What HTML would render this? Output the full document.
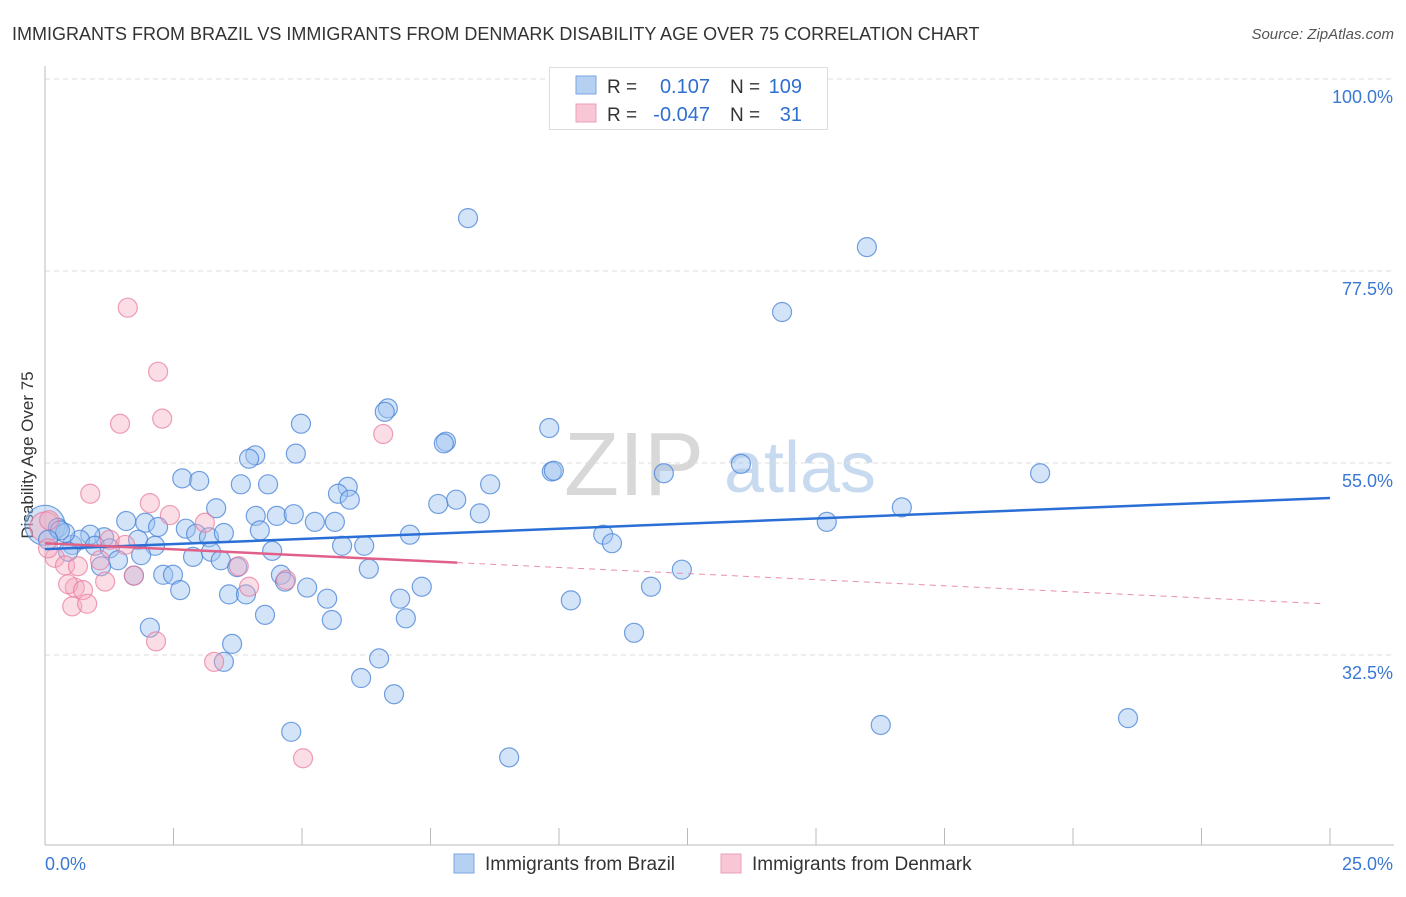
<!DOCTYPE html>
<html><head><meta charset="utf-8"><style>
body{margin:0;background:#fff;font-family:"Liberation Sans",sans-serif;}
svg text{font-family:"Liberation Sans",sans-serif;}
</style></head><body>
<svg id="chart" width="1406" height="892">
<text x="12" y="40" font-size="18" fill="#333">IMMIGRANTS FROM BRAZIL VS IMMIGRANTS FROM DENMARK DISABILITY AGE OVER 75 CORRELATION CHART</text>
<text x="1394" y="39" font-size="15" fill="#555" text-anchor="end" font-style="italic">Source: ZipAtlas.com</text>
<text x="33" y="455" font-size="17" fill="#333" text-anchor="middle" transform="rotate(-90 33 455)">Disability Age Over 75</text>
<text x="634" y="495" font-size="90" fill="#d8d8d8" text-anchor="middle" font-family="Liberation Serif">ZIP</text>
<text x="800" y="492" font-size="72" fill="#c8daf0" text-anchor="middle">atlas</text>
<g id="grid"></g><g id="axes"></g><g id="pts"></g><g id="trends"></g>
<g>
<rect x="549.5" y="67.5" width="278" height="62" fill="#fff" stroke="#ddd"/>
<rect x="576" y="76" width="20" height="18" fill="#b6d0f2" stroke="#7aa6e0"/>
<rect x="576" y="104" width="20" height="18" fill="#f8c6d4" stroke="#eaa0b8"/>
<text x="607" y="93" font-size="19" fill="#333">R = </text><text x="710" y="93" font-size="20" fill="#2f6fd0" text-anchor="end">0.107</text>
<text x="730" y="93" font-size="19" fill="#333">N = </text><text x="802" y="93" font-size="20" fill="#2f6fd0" text-anchor="end">109</text>
<text x="607" y="121" font-size="19" fill="#333">R = </text><text x="710" y="121" font-size="20" fill="#2f6fd0" text-anchor="end">-0.047</text>
<text x="730" y="121" font-size="19" fill="#333">N = </text><text x="802" y="121" font-size="20" fill="#2f6fd0" text-anchor="end">31</text>
</g>
<g>
<rect x="454" y="854" width="20" height="19" fill="#b6d0f2" stroke="#7aa6e0"/>
<text x="485" y="870" font-size="19" fill="#333">Immigrants from Brazil</text>
<rect x="721" y="854" width="20" height="19" fill="#f8c6d4" stroke="#eaa0b8"/>
<text x="752" y="870" font-size="19" fill="#333">Immigrants from Denmark</text>
</g>
</svg>
<script>
const xTickLabels=["0.0%","25.0%"];
const yTicks=[32.5,55,77.5,100];
const yTickLabels=["32.5%","55.0%","77.5%","100.0%"];
const brazilX=[8.23,15.99,14.34,6.67,6.61,4.98,9.81,7.80,7.76,4.09,3.97,4.88,9.86,9.90,12.04,13.54,19.36,2.67,3.00,3.81,4.34,5.89,8.66,5.70,5.93,8.00,7.65,3.33,8.46,16.67,1.58,1.95,2.20,2.74,4.10,4.51,4.84,5.25,5.64,15.21,4.18,2.94,3.19,3.48,7.10,10.86,11.03,1.81,1.15,0.88,0.53,0.68,0.97,1.26,0.25,0.39,0.45,2.14,1.87,1.42,1.09,2.88,3.23,3.42,4.42,5.78,6.21,3.74,6.30,2.30,2.49,1.73,4.59,4.67,12.39,5.10,3.58,3.91,5.49,7.33,6.91,11.79,10.23,2.63,4.28,5.58,7.02,11.46,2.04,3.64,3.48,6.50,6.15,6.79,4.79,9.03,16.26,21.07,0.29,0.06];
const brazilY=[83.7,80.3,72.7,61.4,61.0,59.6,59.1,57.5,57.3,55.9,55.5,56.1,54.0,54.1,53.8,54.9,53.8,53.2,52.9,52.5,52.5,52.2,52.5,51.4,50.7,50.7,50.2,49.7,49.1,49.8,48.2,48.0,47.5,47.3,48.8,48.8,49.0,48.1,48.1,48.1,47.1,46.7,46.3,46.8,46.6,46.6,45.6,46.0,46.3,46.6,45.4,46.0,45.3,45.0,47.4,46.8,44.6,45.3,44.2,43.6,42.9,44.0,44.6,43.6,44.7,45.3,45.3,42.8,42.6,41.9,41.9,41.8,41.9,41.1,42.5,40.4,39.6,39.6,39.1,40.5,39.1,40.5,38.9,40.1,37.2,36.6,36.8,35.1,35.7,33.8,31.7,32.1,29.8,27.9,23.5,20.5,24.3,25.1,47.1,46.0];
const denmarkX=[1.61,2.20,2.28,1.46,6.58,0.88,2.04,2.43,3.11,0.08,1.26,1.56,0.19,0.39,0.64,1.07,0.58,0.45,1.17,0.74,0.53,0.82,1.73,3.77,3.97,4.69,2.16,3.29,5.02,0.06];
const denmarkY=[73.2,65.7,60.2,59.6,58.4,51.4,50.3,48.9,48.0,48.3,46.0,45.4,43.9,43.0,42.9,43.6,40.4,40.8,41.1,40.1,38.2,38.5,41.8,42.9,40.5,41.3,34.1,31.7,20.4,45.0];
const bigPoints=[[0,47.7],[0,47.5]];
const brazilTrend=[44.9,50.9];
const denmarkTrend=[45.6,38.5];
const denmarkSolidEnd=8.02;

const X=v=>45+v/25*1285;
const Y=v=>463-(v-55)*8.533;
const NS="http://www.w3.org/2000/svg";
function mk(tag,attrs,parent){const e=document.createElementNS(NS,tag);for(const k in attrs)e.setAttribute(k,attrs[k]);document.getElementById(parent).appendChild(e);return e;}
yTicks.forEach((t,i)=>{
 const l=mk('line',{x1:45,x2:1394,y1:Y(t),y2:Y(t),stroke:'#ddd','stroke-dasharray':'5,4'},'grid');
 
 
 const tx=mk('text',{x:1393,y:Y(t)+24,'font-size':18,fill:'#3a78d4','text-anchor':'end'},'grid');
 tx.textContent=yTickLabels[i];
 
 
});
const ax=mk('line',{x1:45,x2:1394,y1:845,y2:845,stroke:'#bbb'},'axes');


const ay=mk('line',{x1:45,x2:45,y1:66,y2:845,stroke:'#bbb'},'axes');


for(let i=1;i<=10;i++){const t=mk('line',{x1:X(i*2.5),x2:X(i*2.5),y1:828,y2:845,stroke:'#bbb'},'axes');
 
 }
const xl0=mk('text',{x:45,y:870,'font-size':18,fill:'#3a78d4'},'axes');xl0.textContent=xTickLabels[0];


const xl1=mk('text',{x:1393,y:870,'font-size':18,fill:'#3a78d4','text-anchor':'end'},'axes');xl1.textContent=xTickLabels[1];


function dot(x,y,r,f,s,name){const c=mk('circle',{cx:X(x),cy:Y(y),r:r,fill:f,stroke:s,'stroke-width':1.2},'pts');
 
 }
const bf='rgba(160,196,240,0.45)',bs='rgba(70,130,215,0.75)',pf='rgba(244,170,192,0.4)',ps='rgba(232,120,155,0.7)';
dot(bigPoints[0][0],bigPoints[0][1],20,bf,bs,'brazil-point-large');
dot(bigPoints[1][0],bigPoints[1][1],15,pf,ps,'denmark-point-large');
brazilX.forEach((x,i)=>dot(x,brazilY[i],9.5,bf,bs,'brazil-point'));
denmarkX.forEach((x,i)=>dot(x,denmarkY[i],9.5,pf,ps,'denmark-point'));
const bt=mk('line',{x1:X(0),y1:Y(brazilTrend[0]),x2:X(25),y2:Y(brazilTrend[1]),stroke:'#2a6fd6','stroke-width':2.5},'trends');


const pm=denmarkTrend[0]+(denmarkTrend[1]-denmarkTrend[0])*denmarkSolidEnd/25;
const pt=mk('line',{x1:X(0),y1:Y(denmarkTrend[0]),x2:X(denmarkSolidEnd),y2:Y(pm),stroke:'#e0608a','stroke-width':2.5},'trends');


const pd=mk('line',{x1:X(denmarkSolidEnd),y1:Y(pm),x2:X(24.9),y2:Y(denmarkTrend[1]),stroke:'#e890aa','stroke-width':1,'stroke-dasharray':'6,5'},'trends');


</script>
</body></html>
